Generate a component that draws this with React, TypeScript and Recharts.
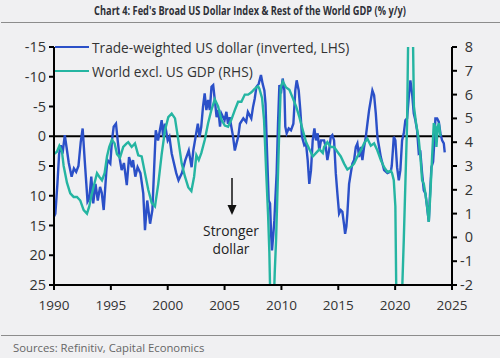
import React from "react";
import { LineChart, Line, XAxis, YAxis, ReferenceLine } from "recharts";

// trade-weighted dollar, % y/y (plotted inverted on the LHS)
const dollarYears = [
  1990.0, 1990.12, 1990.3, 1990.45, 1990.6, 1990.75, 1990.95, 1991.1, 1991.3, 1991.55, 1991.75, 1991.95,
  1992.15, 1992.35, 1992.52, 1992.7, 1992.95, 1993.1, 1993.28, 1993.45, 1993.65, 1993.85, 1994.05, 1994.2,
  1994.37, 1994.6, 1994.7, 1994.95, 1995.1, 1995.25, 1995.45, 1995.6, 1995.8, 1995.95, 1996.15, 1996.4,
  1996.6, 1996.85, 1996.95, 1997.15, 1997.35, 1997.6, 1997.85, 1998.0, 1998.2, 1998.45, 1998.65, 1998.8,
  1998.95, 1999.15, 1999.47, 1999.6, 1999.75, 2000.0, 2000.15, 2000.35, 2000.75, 2000.95, 2001.25, 2001.55,
  2001.85, 2002.1, 2002.25, 2002.4, 2002.55, 2002.65, 2002.8, 2002.95, 2003.1, 2003.25, 2003.4, 2003.55,
  2003.7, 2003.85, 2004.0, 2004.13, 2004.3, 2004.45, 2004.6, 2004.72, 2005.0, 2005.16, 2005.3, 2005.45,
  2005.75, 2005.9, 2006.05, 2006.2, 2006.35, 2006.65, 2006.9, 2007.05, 2007.35, 2007.5, 2007.65, 2007.8,
  2008.0, 2008.2, 2008.35, 2008.5, 2008.6, 2008.73, 2008.88, 2009.0, 2009.09, 2009.17, 2009.29, 2009.38,
  2009.46, 2009.58, 2009.7, 2009.82, 2009.96, 2010.11, 2010.26, 2010.34, 2010.46, 2010.64, 2010.84, 2011.05,
  2011.22, 2011.34, 2011.52, 2011.66, 2011.81, 2012.01, 2012.16, 2012.31, 2012.45, 2012.6, 2012.75, 2012.9,
  2013.04, 2013.19, 2013.33, 2013.48, 2013.75, 2013.9, 2014.04, 2014.19, 2014.34, 2014.48, 2014.63, 2014.78,
  2014.92, 2015.07, 2015.22, 2015.36, 2015.51, 2015.6, 2015.71, 2015.8, 2015.95, 2016.1, 2016.24, 2016.39,
  2016.54, 2016.68, 2016.83, 2016.98, 2017.12, 2017.27, 2017.42, 2017.56, 2017.71, 2017.86, 2018.0, 2018.15,
  2018.3, 2018.44, 2018.59, 2018.74, 2019.03, 2019.32, 2019.62, 2019.7, 2019.8, 2019.88, 2020.02, 2020.17,
  2020.32, 2020.46, 2020.61, 2020.76, 2020.9, 2021.05, 2021.2, 2021.34, 2021.49, 2021.64, 2021.78, 2021.93,
  2022.08, 2022.22, 2022.37, 2022.52, 2022.66, 2022.81, 2022.96, 2023.04, 2023.19, 2023.34, 2023.45, 2023.54,
  2023.69, 2023.84, 2023.98, 2024.13, 2024.28, 2024.36,
];
const dollarChange = [
  13.5, 13.0, 8.0, 3.0, 1.5, 2.9, -0.2, 1.8, 4.5, 6.8, 5.4, 6.0,
  5.0, 1.0, -1.3, 4.0, 11.0, 10.5, 6.8, 11.3, 8.0, 10.8, 8.5, 9.5,
  12.4, 6.0, 4.0, 4.6, 0.7, -1.6, -2.1, 0.7, 4.0, 5.7, 4.5, 8.2,
  3.5, 5.2, 4.0, 6.8, 5.2, 6.2, 9.6, 15.8, 10.8, 14.7, 12.4, 5.7,
  -1.0, 0.7, -2.7, 0.1, -2.1, 0.7, 0.1, 2.9, 6.2, 7.4, 6.2, 4.0,
  2.4, 5.2, 2.4, 0.7, -1.0, -2.1, 0.1, -1.6, -4.9, -7.2, -4.4, -6.1,
  -4.4, -8.3, -8.6, -6.3, -3.2, -4.4, -1.6, -3.8, -2.7, -4.1, -2.1, -3.2,
  0.1, 2.4, 1.2, 0.1, -2.1, -3.0, -2.4, -4.1, -3.0, -4.9, -6.3, -8.3,
  -8.8, -10.3, -8.8, -7.7, -5.5, 2.4, 10.8, 11.3, 16.4, 19.2, 16.4, 14.1,
  10.8, 6.2, -2.1, -8.6, -7.2, -9.7, -7.7, -1.6, -0.5, -1.3, -1.0, -2.1,
  -7.7, -9.4, -7.7, -4.4, 0.1, 1.5, 1.2, 4.0, 8.0, 5.7, 0.7, -1.3,
  0.7, -0.5, 2.4, 0.7, 0.7, 1.8, 4.0, 2.4, 0.1, -0.2, 0.7, 6.2,
  9.6, 13.0, 12.4, 12.7, 14.9, 16.4, 15.2, 13.0, 8.0, 6.2, 4.6, 4.0,
  1.8, 1.2, 3.5, 1.8, 4.0, 1.8, 0.1, -2.1, -4.4, -6.1, -7.7, -6.9,
  -3.8, 0.1, 1.8, 3.5, 5.7, 6.2, 5.9, 5.0, 2.4, 0.1, 0.7, 5.2,
  7.4, 5.7, 0.7, -0.5, -2.7, -3.0, -6.6, -9.4, -7.2, -3.8, -2.7, -1.0,
  2.9, 2.7, 6.2, 9.1, 9.6, 11.9, 14.4, 10.8, 5.2, 4.3, 0.7, -3.0,
  -3.0, -2.4, -0.5, 0.7, 1.2, 2.7,
];

// world excl. US GDP, % y/y (RHS)
const gdpYears = [
  1990.0, 1990.26, 1990.47, 1990.7, 1990.85, 1991.14, 1991.43, 1991.73, 1992.02, 1992.31, 1992.61, 1992.9,
  1993.1, 1993.34, 1993.57, 1993.78, 1993.98, 1994.22, 1994.45, 1994.66, 1994.86, 1995.1, 1995.33, 1995.54,
  1995.8, 1996.09, 1996.39, 1996.53, 1996.83, 1997.12, 1997.41, 1997.71, 1998.0, 1998.29, 1998.59, 1998.88,
  1999.17, 1999.47, 1999.76, 2000.05, 2000.35, 2000.64, 2000.93, 2001.23, 2001.52, 2001.81, 2002.08, 2002.32,
  2002.52, 2002.73, 2002.96, 2003.26, 2003.55, 2003.84, 2004.14, 2004.43, 2004.72, 2005.02, 2005.31, 2005.6,
  2005.9, 2006.19, 2006.48, 2006.78, 2007.07, 2007.36, 2007.66, 2007.95, 2008.06, 2008.3, 2008.47, 2008.65,
  2008.83, 2008.94, 2009.1, 2009.25, 2009.41, 2009.53, 2009.68, 2009.82, 2009.94, 2010.12, 2010.41, 2010.7,
  2011.0, 2011.29, 2011.58, 2011.88, 2012.17, 2012.46, 2012.76, 2013.05, 2013.34, 2013.64, 2013.75, 2014.04,
  2014.34, 2014.63, 2014.92, 2015.22, 2015.51, 2015.8, 2016.1, 2016.39, 2016.68, 2016.98, 2017.27, 2017.56,
  2017.86, 2018.15, 2018.44, 2018.74, 2019.03, 2019.32, 2019.62, 2019.73, 2019.88, 2020.02, 2020.25, 2020.5,
  2020.76, 2021.05, 2021.35, 2021.65, 2021.84, 2022.08, 2022.22, 2022.37, 2022.52, 2022.66, 2022.81, 2022.96,
  2023.1, 2023.25, 2023.4, 2023.54, 2023.63, 2023.75, 2023.84, 2023.98,
];
const gdpGrowth = [
  3.5, 3.6, 3.85, 3.6, 3.0, 2.3, 1.85, 1.7, 1.7, 1.55, 1.15, 1.0,
  1.3, 1.85, 2.3, 2.7, 2.55, 2.4, 2.7, 3.4, 3.8, 4.1, 3.95, 3.5,
  3.35, 3.8, 3.95, 4.0, 3.8, 3.95, 3.45, 3.4, 2.7, 2.0, 1.45, 1.3,
  2.25, 3.5, 4.5, 5.05, 5.2, 5.0, 4.1, 3.1, 2.55, 2.1, 1.95, 2.55,
  3.45, 3.25, 3.55, 4.1, 4.8, 5.35, 5.8, 5.5, 4.95, 4.7, 4.65, 4.95,
  5.35, 5.7, 5.7, 6.0, 6.0, 6.1, 6.25, 6.35, 6.25, 5.85, 4.95, 2.85,
  0.9, -0.65, -4.5, -4.0, -1.5, -0.1, 2.4, 4.65, 6.3, 6.55, 6.3, 6.2,
  5.85, 5.5, 5.05, 4.5, 4.0, 3.7, 3.4, 3.55, 3.7, 3.55, 3.8, 4.0,
  3.8, 3.8, 3.6, 3.4, 3.1, 2.85, 2.95, 3.1, 3.4, 3.65, 3.95, 4.15,
  3.85, 3.95, 3.65, 3.25, 2.95, 2.75, 2.8, 2.7, 2.4, 1.3, -9.0, -4.0,
  -0.1, 4.8, 16.0, 5.5, 4.8, 4.1, 3.4, 2.4, 2.25, 1.85, 1.3, 0.65,
  1.85, 3.4, 4.8, 4.65, 3.8, 4.65, 4.8, 4.25,
];

const yearTicks = [1990, 1995, 2000, 2005, 2010, 2015, 2020, 2025];
const lhsTicks = [-15, -10, -5, 0, 5, 10, 15, 20, 25];
const rhsTicks = [-2, -1, 0, 1, 2, 3, 4, 5, 6, 7, 8];

const dollarData = dollarYears.map((year, i) => ({ year, value: dollarChange[i] }));
const gdpData = gdpYears.map((year, i) => ({ year, value: gdpGrowth[i] }));

const BLUE = "#2b50c8";
const TEAL = "#25b5a2";
const TEXT = "#333";
const FONT = "'Open Sans', sans-serif";

function RhsTick({ x, y, payload }: any) {
  return (
    <text x={x + 12} y={y} dy="0.35em" textAnchor="end" fill={TEXT} fontSize={14.5}>
      {payload.value}
    </text>
  );
}

function LegendRow({ color, label }: { color: string; label: string }) {
  return (
    <div style={{ display: "flex", alignItems: "center", height: 24 }}>
      <span style={{ display: "inline-block", width: 34, height: 2.5, background: color, marginRight: 3 }} />
      <span style={{ fontSize: 13.7, color: TEXT, whiteSpace: "nowrap" }}>{label}</span>
    </div>
  );
}

export default function App() {
  const axisLine = { stroke: "#000", strokeWidth: 2 };
  return (
    <div
      style={{
        position: "absolute", left: 0, top: 0, width: 500, height: 358,
        background: "#f0f0f2", fontFamily: FONT, overflow: "hidden",
      }}
    >
      <div
        style={{
          position: "absolute", top: 2, left: 0, width: 500, textAlign: "center",
          fontSize: 12, fontWeight: 700, color: "#2e3038", whiteSpace: "nowrap",
          transform: "scaleX(0.77)", transformOrigin: "250px 0",
        }}
      >
        Chart 4: Fed's Broad US Dollar Index &amp; Rest of the World GDP (% y/y)
      </div>
      <div style={{ position: "absolute", top: 22, left: 1, width: 499, height: 1, background: "#8c8c8c" }} />

      <LineChart
        width={500}
        height={358}
        margin={{ top: 47, right: 0, bottom: 43, left: 0 }}
        style={{ position: "absolute", left: 0, top: 0 }}
      >
        <XAxis
          dataKey="year"
          type="number"
          domain={[1990, 2025]}
          ticks={yearTicks}
          interval={0}
          height={30}
          tickSize={5}
          tickMargin={10}
          axisLine={axisLine}
          tickLine={axisLine}
          tick={{ fill: TEXT, fontSize: 13.5 }}
        />
        <YAxis
          yAxisId="lhs"
          orientation="left"
          width={54}
          domain={[-15, 25]}
          reversed
          ticks={lhsTicks}
          interval={0}
          tickSize={5}
          tickMargin={3}
          axisLine={axisLine}
          tickLine={axisLine}
          tick={{ fill: TEXT, fontSize: 14.5 }}
        />
        <YAxis
          yAxisId="rhs"
          orientation="right"
          width={48}
          domain={[-2, 8]}
          allowDataOverflow
          ticks={rhsTicks}
          interval={0}
          tickSize={5}
          tickMargin={4}
          axisLine={axisLine}
          tickLine={axisLine}
          tick={<RhsTick />}
        />
        <ReferenceLine yAxisId="lhs" y={0} stroke="#000" strokeWidth={2} />
        <Line
          yAxisId="lhs"
          data={dollarData}
          dataKey="value"
          stroke={BLUE}
          strokeWidth={2.4}
          dot={false}
          isAnimationActive={false}
        />
        <Line
          yAxisId="rhs"
          data={gdpData}
          dataKey="value"
          stroke={TEAL}
          strokeWidth={2.4}
          dot={false}
          isAnimationActive={false}
        />
      </LineChart>

      <div style={{ position: "absolute", left: 55, top: 35 }}>
        <LegendRow color={BLUE} label="Trade-weighted US dollar (inverted, LHS)" />
        <LegendRow color={TEAL} label="World excl. US GDP (RHS)" />
      </div>

      <svg width={500} height={358} style={{ position: "absolute", left: 0, top: 0, pointerEvents: "none" }}>
        <line x1={232} y1={178} x2={232} y2={207} stroke="#111" strokeWidth={1.5} />
        <polygon points="227.5,205 236.5,205 232,215" fill="#111" />
        <text x={231} y={236} textAnchor="middle" fontSize={13.8} fill="#222">Stronger</text>
        <text x={231} y={254} textAnchor="middle" fontSize={13.8} fill="#222">dollar</text>
      </svg>

      <div style={{ position: "absolute", top: 335, left: 1, width: 499, height: 1, background: "#8c8c8c" }} />
      <div style={{ position: "absolute", top: 340, left: 13, fontSize: 11.3, color: "#666" }}>
        Sources: Refinitiv, Capital Economics
      </div>
    </div>
  );
}
